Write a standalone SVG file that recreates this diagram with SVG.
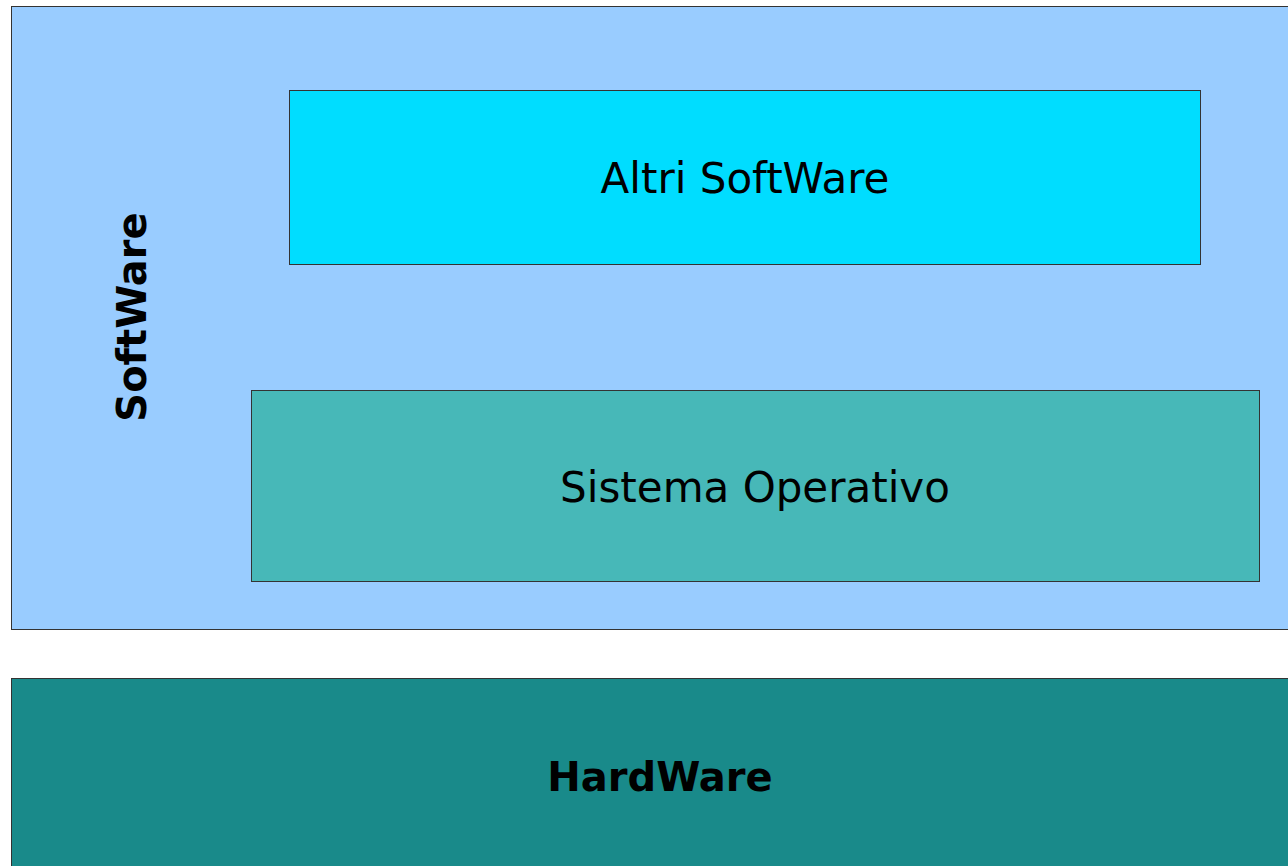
<svg xmlns="http://www.w3.org/2000/svg" width="1288" height="866" viewBox="0 0 1288 866">
<style>
.box{stroke:#333;stroke-width:1}
.t{font-family:"DejaVu Sans",Verdana,sans-serif;fill:#000;text-anchor:middle}
.n{font-size:42px}
.b{font-size:40px;font-weight:bold}
</style>
<rect width="1288" height="866" fill="#fff"/>
<g id="software">
<rect class="box" x="11.5" y="6.5" width="1300" height="623" fill="#99ccff"/>
<text class="t b" transform="translate(146,317) rotate(-90)">SoftWare</text>
</g>
<g id="altri">
<rect class="box" x="289.5" y="90.5" width="911" height="174" fill="#00ddff"/>
<text class="t n" x="745" y="193">Altri SoftWare</text>
</g>
<g id="sistema">
<rect class="box" x="251.5" y="390.5" width="1008" height="191" fill="#47b8b8"/>
<text class="t n" x="755" y="502">Sistema Operativo</text>
</g>
<g id="hardware">
<rect class="box" x="11.5" y="678.5" width="1300" height="200" fill="#198a8a"/>
<text class="t b" x="660" y="791">HardWare</text>
</g>
<g id="connectors"/>
</svg>
